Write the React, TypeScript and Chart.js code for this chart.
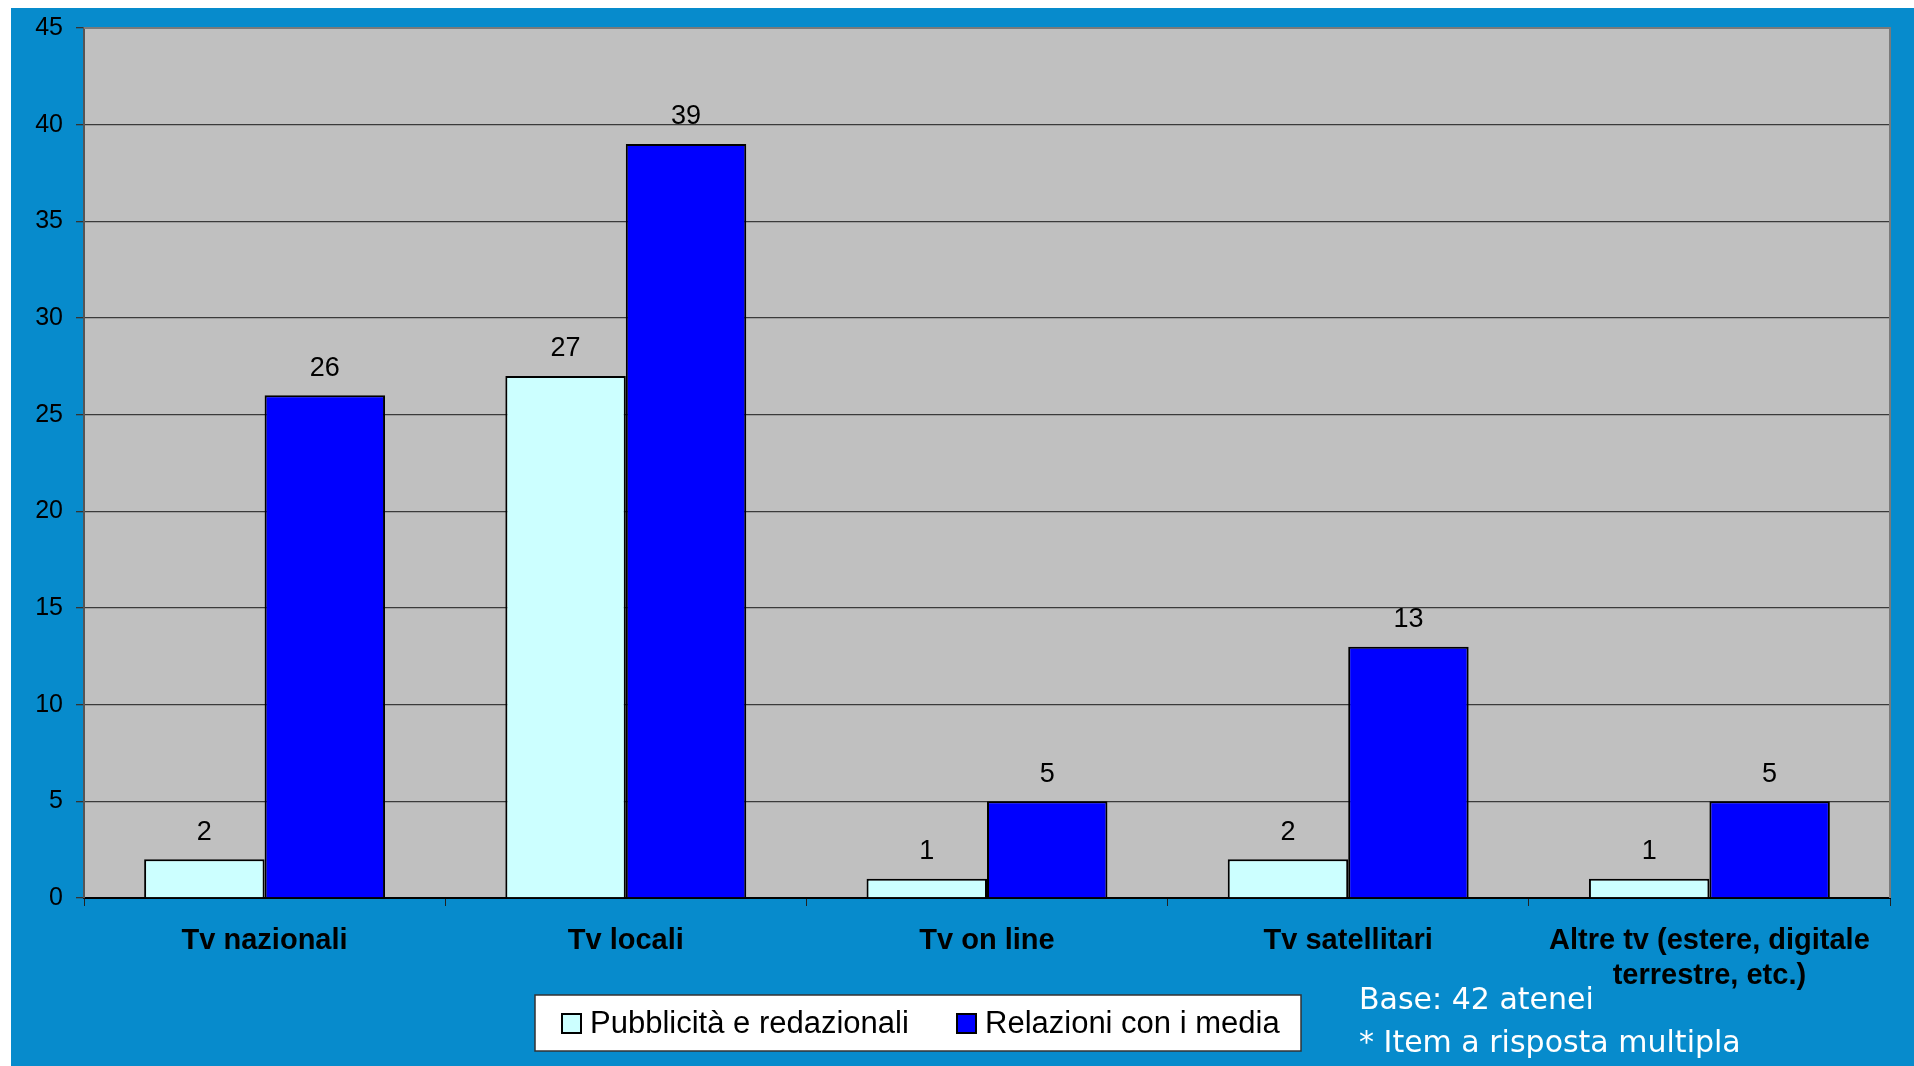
import React, { useEffect, useRef } from "react";
import { Chart, registerables } from "chart.js";

Chart.register(...registerables);

const categories: (string | string[])[] = [
  "Tv nazionali",
  "Tv locali",
  "Tv on line",
  "Tv satellitari",
  ["Altre tv (estere, digitale", "terrestre, etc.)"],
];
const pubblicita = [2, 27, 1, 2, 1];
const relazioni = [26, 39, 5, 13, 5];
const seriesNames = ["Pubblicità e redazionali", "Relazioni con i media"];
const footnotes = ["Base: 42 atenei", "* Item a risposta multipla"];
const yMax = 45;
const yStep = 5;

const PAGE_BLUE = "#078bcc";
const PLOT_GRAY = "#c0c0c0";
const LIGHT = "#ccffff";
const BLUE = "#0000ff";

const bgPlugin = {
  id: "bgPlugin",
  beforeDraw(chart: any) {
    const { ctx, width, height, chartArea } = chart;
    ctx.save();
    ctx.fillStyle = "#ffffff";
    ctx.fillRect(0, 0, width, height);
    ctx.fillStyle = PAGE_BLUE;
    ctx.fillRect(11, 8, width - 11, height - 8);
    ctx.fillStyle = PLOT_GRAY;
    ctx.fillRect(chartArea.left, chartArea.top, chartArea.right - chartArea.left, chartArea.bottom - chartArea.top);
    ctx.restore();
  },
  afterDraw(chart: any) {
    const { ctx, chartArea } = chart;
    ctx.save();
    ctx.strokeStyle = "#7a7a7a";
    ctx.lineWidth = 2;
    ctx.beginPath();
    ctx.moveTo(chartArea.left, chartArea.top);
    ctx.lineTo(chartArea.right, chartArea.top);
    ctx.lineTo(chartArea.right, chartArea.bottom);
    ctx.stroke();

    // legend
    const lx = 535, ly = 995, lw = 766, lh = 56;
    ctx.fillStyle = "#ffffff";
    ctx.fillRect(lx, ly, lw, lh);
    ctx.strokeStyle = "#333333";
    ctx.lineWidth = 1.5;
    ctx.strokeRect(lx, ly, lw, lh);
    const items = chart.data.datasets;
    const sqX = [562, 957];
    ctx.font = "31px 'Liberation Sans', Arial, sans-serif";
    ctx.textBaseline = "middle";
    ctx.textAlign = "left";
    items.forEach((ds: any, i: number) => {
      ctx.fillStyle = ds.backgroundColor;
      ctx.fillRect(sqX[i], 1014, 19, 19);
      ctx.strokeStyle = "#000";
      ctx.lineWidth = 2;
      ctx.strokeRect(sqX[i], 1014, 19, 19);
      ctx.fillStyle = "#000";
      ctx.fillText(ds.label, sqX[i] + 28, 1024);
    });

    // footnotes
    ctx.fillStyle = "#ffffff";
    ctx.font = "30px 'DejaVu Sans', sans-serif";
    ctx.textBaseline = "alphabetic";
    ctx.fillText(footnotes[0], 1359, 1009);
    ctx.fillText(footnotes[1], 1359, 1052);
    ctx.restore();
  },
};

const valueLabels = {
  id: "valueLabels",
  afterDatasetsDraw(chart: any) {
    const { ctx } = chart;
    ctx.save();
    ctx.font = "27px 'Liberation Sans', Arial, sans-serif";
    ctx.fillStyle = "#000";
    ctx.textAlign = "center";
    ctx.textBaseline = "middle";
    chart.data.datasets.forEach((ds: any, i: number) => {
      const meta = chart.getDatasetMeta(i);
      meta.data.forEach((el: any, j: number) => {
        ctx.fillText(String(ds.data[j]), el.x, el.y - 27);
      });
    });
    ctx.restore();
  },
};

export default function App() {
  const ref = useRef<HTMLCanvasElement | null>(null);
  useEffect(() => {
    if (!ref.current) return;
    const chart = new Chart(ref.current, {
      type: "bar",
      data: {
        labels: categories,
        datasets: [
          {
            label: seriesNames[0],
            data: pubblicita,
            backgroundColor: LIGHT,
            borderColor: "#000",
            borderWidth: 2,
            categoryPercentage: 0.667,
            barPercentage: 1,
          },
          {
            label: seriesNames[1],
            data: relazioni,
            backgroundColor: BLUE,
            borderColor: "#000",
            borderWidth: 2,
            categoryPercentage: 0.667,
            barPercentage: 1,
          },
        ],
      },
      options: {
        animation: false,
        responsive: false,
        maintainAspectRatio: false,
        layout: { padding: { left: 0, top: 26, right: 24, bottom: 0 } },
        plugins: {
          legend: { display: false },
          tooltip: { enabled: false },
          title: { display: false },
        },
        scales: {
          x: {
            offset: true,
            grid: {
              display: true,
              drawOnChartArea: false,
              drawTicks: true,
              tickLength: 8,
              color: "#222",
              lineWidth: 1,
              offset: true,
            },
            border: { display: true, color: "#000", width: 2 },
            ticks: {
              color: "#000",
              font: { family: "'Liberation Sans', Arial, sans-serif", size: 29, weight: "bold", lineHeight: 1.2 },
              padding: 18,
              maxRotation: 0,
              minRotation: 0,
              autoSkip: false,
            },
            afterFit: (axis: any) => {
              axis.height = 168;
            },
          },
          y: {
            min: 0,
            max: yMax,
            ticks: {
              stepSize: yStep,
              color: "#000",
              font: { family: "'Liberation Sans', Arial, sans-serif", size: 25 },
              padding: 13,
            },
            grid: {
              color: "#3a3a3a",
              lineWidth: 1.3,
              tickLength: 8,
              tickColor: "#333",
            },
            border: { display: true, color: "#555", width: 2 },
            afterFit: (axis: any) => {
              axis.width = 84;
            },
          },
        },
      },
      plugins: [bgPlugin, valueLabels],
    });
    return () => chart.destroy();
  }, []);
  return (
    <div style={{ position: "absolute", left: 0, top: 0, width: 1914, height: 1066 }}>
      <canvas ref={ref} width={1914} height={1066} style={{ display: "block", width: 1914, height: 1066 }} />
    </div>
  );
}
